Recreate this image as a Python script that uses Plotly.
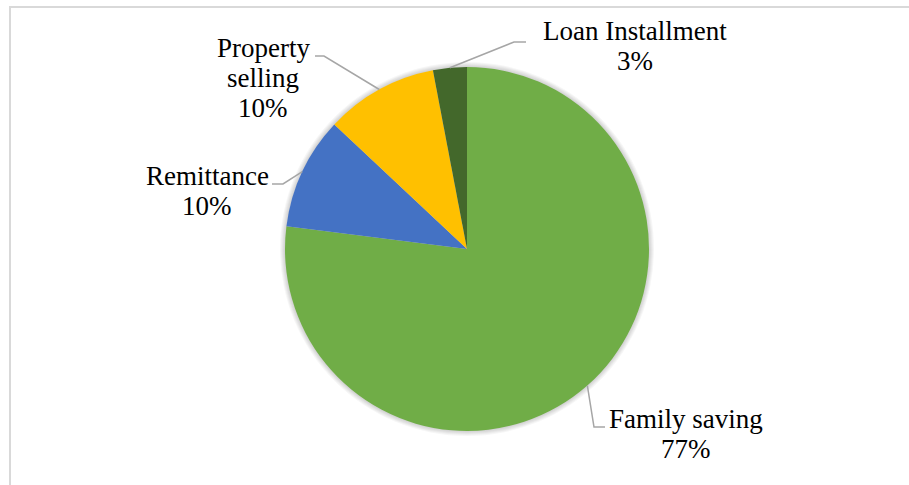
import math
import plotly.graph_objects as go

# Sources of funds and their shares (%)
categories = ["Family saving", "Remittance", "Property selling", "Loan Installment"]
shares = [77, 10, 10, 3]
colors = ["#70AD47", "#4472C4", "#FFC000", "#43682B"]
# how each category name is broken over lines in its label
name_lines = [["Family saving"], ["Remittance"], ["Property", "selling"], ["Loan Installment"]]

W, H = 909, 485
CX, CY, R = 467, 249, 182          # pie centre and radius in pixels
FONT = dict(family="Liberation Serif", size=27, color="#000000")
LINE_H = 30                          # label line spacing in pixels

# label layout per category: leader elbow, leader end, text centre x, first baseline y
label_layout = [
    dict(elbow=(594, 427), end=(605, 427), tx=686, ty=428),
    dict(elbow=(283, 184), end=(272, 184), tx=207, ty=185),
    dict(elbow=(324, 56), end=(315, 56), tx=263, ty=57),
    dict(elbow=(514, 42), end=(526, 42), tx=635, ty=40),
]


def px(x):
    return x / W


def py(y):
    return 1 - y / H


fig = go.Figure(
    go.Pie(
        labels=categories,
        values=shares,
        sort=False,
        direction="clockwise",
        rotation=0,
        marker=dict(colors=colors, line=dict(width=0)),
        textinfo="none",
        hoverinfo="label+percent",
        domain=dict(x=[px(CX - R), px(CX + R)], y=[py(CY + R), py(CY - R)]),
        showlegend=False,
    )
)

shapes = [
    # light frame along the top and left edges
    dict(type="path", xref="paper", yref="paper",
         path=f"M {px(10)} {py(500)} L {px(10)} {py(7)} L {px(930)} {py(7)}",
         line=dict(color="#d9d9d9", width=2)),
]
# soft glow around the pie, built from faint stacked discs
for k in range(1, 6):
    rr = R + k
    shapes.append(dict(
        type="circle", xref="paper", yref="paper", layer="below",
        x0=px(CX - rr), x1=px(CX + rr), y0=py(CY + rr), y1=py(CY - rr),
        fillcolor="rgba(0,0,0,0.035)", line=dict(width=0),
    ))
annotations = []

total = sum(shares)
start = 0.0
for name, lines, val, lay in zip(categories, name_lines, shares, label_layout):
    frac = val / total
    mid = (start + frac / 2) * 2 * math.pi   # clockwise from 12 o'clock
    start += frac
    ax = CX + R * math.sin(mid)
    ay = CY - R * math.cos(mid)
    ex, ey = lay["elbow"]
    nx, ny = lay["end"]
    shapes.append(dict(
        type="path", xref="paper", yref="paper",
        path=f"M {px(ax)} {py(ay)} L {px(ex)} {py(ey)} L {px(nx)} {py(ny)}",
        line=dict(color="#a6a6a6", width=1.5),
    ))
    text_lines = lines + [f"{val}%"]
    for i, t in enumerate(text_lines):
        base = lay["ty"] + i * LINE_H
        annotations.append(dict(
            text=t, showarrow=False, xref="paper", yref="paper",
            x=px(lay["tx"]), y=py(base - 0.34 * FONT["size"]),
            xanchor="center", yanchor="middle", font=FONT,
        ))

fig.update_layout(
    width=W, height=H,
    margin=dict(l=0, r=0, t=0, b=0),
    paper_bgcolor="white",
    plot_bgcolor="white",
    shapes=shapes,
    annotations=annotations,
)

fig.write_html("out.html")
